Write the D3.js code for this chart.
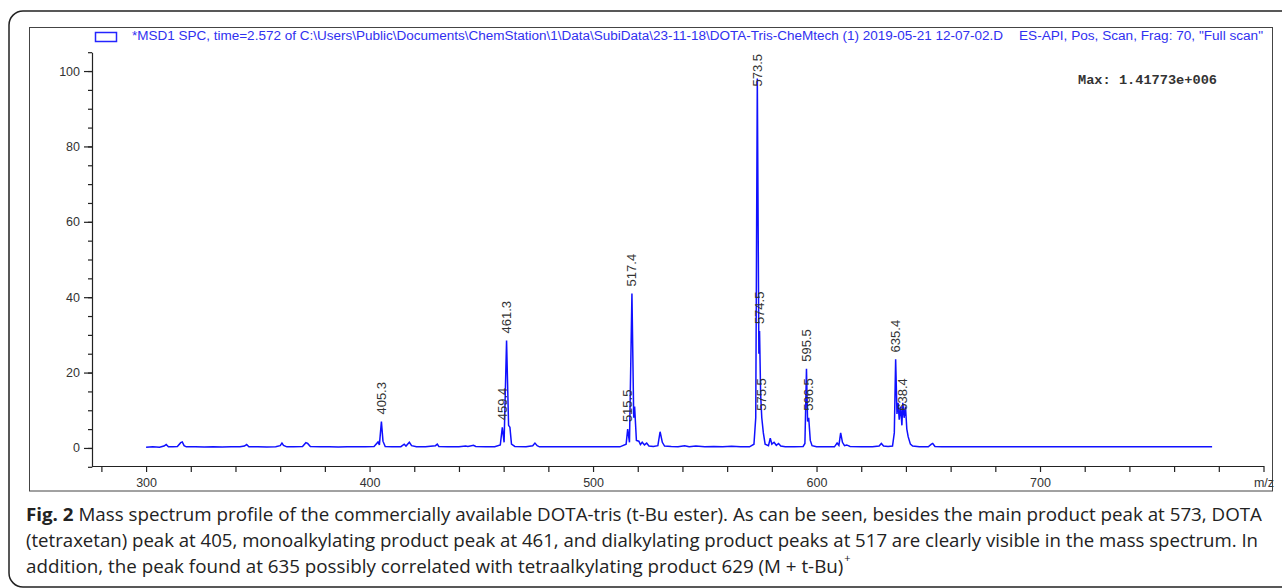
<!DOCTYPE html>
<html>
<head>
  <title>Mass spectrum DOTA-tris</title>
  <script src="https://d3js.org/d3.v7.min.js"></script>
  <style>
    body { margin: 0; background: #fff; }
    .tick text { font-family: "Liberation Sans", Arial, sans-serif; font-size: 12.5px; fill: #333; }
    .tick line, .domain { stroke: #222; stroke-width: 1.2px; }
    .line { fill: none; stroke: #1010ff; stroke-width: 1.5px; }
  </style>
</head>
<body>
  <svg id="spectrum" width="1282" height="588"></svg>

  <script>
    // spectrum profile: m/z and relative abundance (%)
    var mz = [300, 303, 306, 308, 309, 310, 312, 314, 315.5, 316.2, 317, 318, 322, 326, 330, 334, 338, 342, 344, 345, 346, 350, 354, 358, 360, 360.8, 361.5, 363, 366, 370, 371.5, 372.3, 373.5, 378, 382, 386, 390, 394, 398, 402, 403.8, 404.4, 405.3, 406, 407, 410, 414, 415.5, 416.3, 417.8, 418.8, 421, 425, 429.5, 430.3, 431, 435, 440, 443, 444, 446.5, 447.5, 452, 456, 458.5, 459.4, 460.2, 461.3, 462.2, 462.8, 463.5, 465, 470, 473, 474, 475, 476, 480, 484, 488, 492, 496, 500, 504, 508, 512, 514.8, 515.5, 516.3, 517.4, 518.2, 518.6, 519.4, 520.5, 521.2, 522, 523, 524, 525, 527, 529, 530, 531, 532, 535, 538, 541, 543, 546, 550, 554, 558, 562, 566, 570, 572, 572.8, 573.5, 574.2, 574.5, 575, 575.5, 576.2, 577, 578.5, 579.3, 580, 581, 582, 583, 584, 586, 590, 594, 594.8, 595.5, 596, 596.5, 597.2, 598, 600, 604, 608, 609.2, 610, 610.8, 611.6, 612.5, 613.5, 615, 620, 625, 628, 629, 630, 632, 634, 634.8, 635.4, 636, 636.5, 637, 637.6, 638.2, 638.6, 639.2, 639.8, 640.4, 641, 642, 643, 646, 650, 651.4, 652, 653, 656, 660, 680, 700, 720, 740, 760, 777];
    var abundance = [0.2, 0.3, 0.2, 0.5, 0.9, 0.3, 0.3, 0.4, 1.4, 1.6, 0.6, 0.3, 0.3, 0.25, 0.3, 0.25, 0.3, 0.3, 0.5, 0.9, 0.3, 0.3, 0.25, 0.3, 0.6, 1.3, 0.7, 0.3, 0.3, 0.4, 1.4, 1.2, 0.4, 0.3, 0.3, 0.25, 0.3, 0.35, 0.3, 0.4, 1.6, 0.8, 7, 1.8, 0.4, 0.3, 0.35, 1.0, 0.5, 1.5, 0.6, 0.3, 0.3, 0.6, 1.0, 0.4, 0.3, 0.3, 0.5, 0.4, 0.7, 0.4, 0.3, 0.3, 0.8, 5.5, 1.5, 28.5, 6, 5.5, 1.0, 0.4, 0.3, 0.6, 1.3, 0.6, 0.3, 0.3, 0.3, 0.35, 0.3, 0.3, 0.3, 0.3, 0.35, 0.3, 1.0, 5, 1.5, 41, 8, 11, 2, 1.8, 0.9, 1.5, 0.8, 1.3, 0.5, 0.4, 0.6, 4.3, 1.5, 0.5, 0.4, 0.35, 0.6, 0.35, 0.5, 0.35, 0.4, 0.3, 0.45, 0.3, 0.3, 1, 8, 98, 25, 31, 14, 8, 4, 1, 0.6, 2.6, 1, 1.5, 0.7, 1.2, 0.5, 0.3, 0.3, 0.4, 1.2, 21, 7, 8, 2, 0.6, 0.3, 0.3, 0.3, 1.3, 0.7, 4, 1.5, 0.6, 0.8, 0.4, 0.3, 0.3, 0.5, 1.2, 0.5, 0.4, 0.5, 4, 23.5, 9, 12, 7.5, 11, 6, 12, 8, 11, 5, 3, 1, 0.5, 0.3, 0.3, 1.0, 1.2, 0.4, 0.3, 0.3, 0.3, 0.3, 0.3, 0.3, 0.3, 0.3];

    // peak labels: position, height of the labelled peak, text
    var peakMz = [405.3, 459.4, 461.3, 515.5, 517.4, 573.5, 574.5, 575.5, 595.5, 596.5, 635.4, 638.4];
    var peakHeight = [7, 5.5, 28.5, 5, 41, 98, 31, 8, 21, 8, 23.5, 8];
    var peakText = ["405.3", "459.4", "461.3", "515.5", "517.4", "573.5", "574.5", "575.5", "595.5", "596.5", "635.4", "638.4"];

    // axis ticks
    var yMajor = [0, 20, 40, 60, 80, 100];
    var yMinor = d3.range(-5, 106, 5);
    var xMinor = d3.range(280, 801, 20);
    var xLabels = { 300: "300", 400: "400", 500: "500", 600: "600", 700: "700", 800: "m/z" };

    var legendText = "*MSD1 SPC, time=2.572 of C:\\Users\\Public\\Documents\\ChemStation\\1\\Data\\SubiData\\23-11-18\\DOTA-Tris-CheMtech (1) 2019-05-21 12-07-02.D";
    var legendText2 = "ES-API, Pos, Scan, Frag: 70, \"Full scan\"";
    var maxText = "Max: 1.41773e+006";
    var caption = [
      "Mass spectrum profile of the commercially available DOTA-tris (t-Bu ester). As can be seen, besides the main product peak at 573, DOTA",
      "(tetraxetan) peak at 405, monoalkylating product peak at 461, and dialkylating product peaks at 517 are clearly visible in the mass spectrum. In",
      "addition, the peak found at 635 possibly correlated with tetraalkylating product 629 (M + t-Bu)"
    ];

    var data = mz.map(function(m, i) { return { mz: m, v: abundance[i] }; });

    var svg = d3.select("#spectrum");

    // frames
    svg.append("rect")
      .attr("x", 9).attr("y", 11).attr("width", 1300).attr("height", 576)
      .attr("rx", 14).attr("fill", "none").attr("stroke", "#222").attr("stroke-width", 1.5);
    svg.append("rect")
      .attr("x", 29.5).attr("y", 27.5).attr("width", 1243).attr("height", 463.5)
      .attr("fill", "none").attr("stroke", "#444").attr("stroke-width", 1);

    // scales
    var xScale = d3.scaleLinear().domain([275.8, 800]).range([92, 1263.5]);
    var yScale = d3.scaleLinear().domain([-5, 105]).range([466.8, 52.2]);

    // y axis (minor + major)
    svg.append("g")
      .attr("transform", "translate(92,0)")
      .call(d3.axisLeft(yScale).tickValues(yMinor).tickSize(4).tickSizeOuter(0).tickFormat(""));
    svg.append("g")
      .attr("transform", "translate(92,0)")
      .call(d3.axisLeft(yScale).tickValues(yMajor).tickSize(8).tickSizeOuter(0).tickPadding(4))
      .select(".domain").remove();

    // x axis
    svg.append("g")
      .attr("transform", "translate(0,466)")
      .call(d3.axisBottom(xScale).tickValues(xMinor).tickSize(6).tickSizeOuter(0)
        .tickFormat(function(d) { return xLabels[d] || ""; }))
      .selectAll(".tick text").attr("dy", "0.95em");

    // spectrum
    var line = d3.line()
      .x(function(d) { return xScale(d.mz); })
      .y(function(d) { return yScale(d.v); });

    svg.append("path")
      .datum(data)
      .attr("class", "line")
      .attr("d", line);

    // peak labels
    peakMz.forEach(function(m, i) {
      var t = svg.append("text")
        .text(peakText[i])
        .style("font-family", "Liberation Sans, Arial, sans-serif")
        .style("font-size", "13px")
        .attr("fill", "#333");
      var len = t.node().getComputedTextLength();
      var base = yScale(peakHeight[i]) - 7;
      if (base - len < 54) base = 54 + len;
      t.attr("transform", "translate(" + (xScale(m) + 4.5) + "," + base + ") rotate(-90)");
    });

    // legend
    svg.append("rect")
      .attr("x", 95.5).attr("y", 32.5).attr("width", 21).attr("height", 9)
      .attr("fill", "#fff").attr("stroke", "#2424ff").attr("stroke-width", 1.5);
    svg.append("text")
      .attr("x", 132).attr("y", 40)
      .attr("textLength", 871).attr("lengthAdjust", "spacingAndGlyphs")
      .style("font-family", "Liberation Sans, Arial, sans-serif").style("font-size", "12px")
      .attr("fill", "#3030f0")
      .text(legendText);
    svg.append("text")
      .attr("x", 1019).attr("y", 40)
      .attr("textLength", 244).attr("lengthAdjust", "spacingAndGlyphs")
      .style("font-family", "Liberation Sans, Arial, sans-serif").style("font-size", "12px")
      .attr("fill", "#3030f0")
      .text(legendText2);

    svg.append("text")
      .attr("x", 1078).attr("y", 84)
      .attr("textLength", 139).attr("lengthAdjust", "spacingAndGlyphs")
      .style("font-family", "Liberation Mono, Courier New, monospace").style("font-size", "12px")
      .style("font-weight", "bold")
      .attr("fill", "#333")
      .text(maxText);

    // caption
    var cap = svg.append("g").attr("fill", "#222")
      .style("font-family", "Open Sans, Noto Sans, sans-serif").style("font-size", "17.5px");
    var l1 = cap.append("text").attr("x", 26).attr("y", 521);
    l1.append("tspan").style("font-weight", "bold").text("Fig. 2");
    l1.append("tspan").text(" " + caption[0]);
    var w1 = l1.node().getComputedTextLength();
    var sx = (1262 - 26) / w1;
    l1.attr("textLength", 1262 - 26).attr("lengthAdjust", "spacingAndGlyphs");
    var l2 = cap.append("text").attr("x", 26).attr("y", 547).text(caption[1]);
    l2.attr("textLength", 1258 - 26).attr("lengthAdjust", "spacingAndGlyphs");
    var l3 = cap.append("text").attr("x", 26).attr("y", 573).text(caption[2]);
    var w3 = l3.node().getComputedTextLength() * sx;
    l3.attr("textLength", w3).attr("lengthAdjust", "spacingAndGlyphs");
    cap.append("text").attr("x", 26 + w3 + 1).attr("y", 562)
      .style("font-size", "11px").text("+");
  </script>
</body>
</html>
